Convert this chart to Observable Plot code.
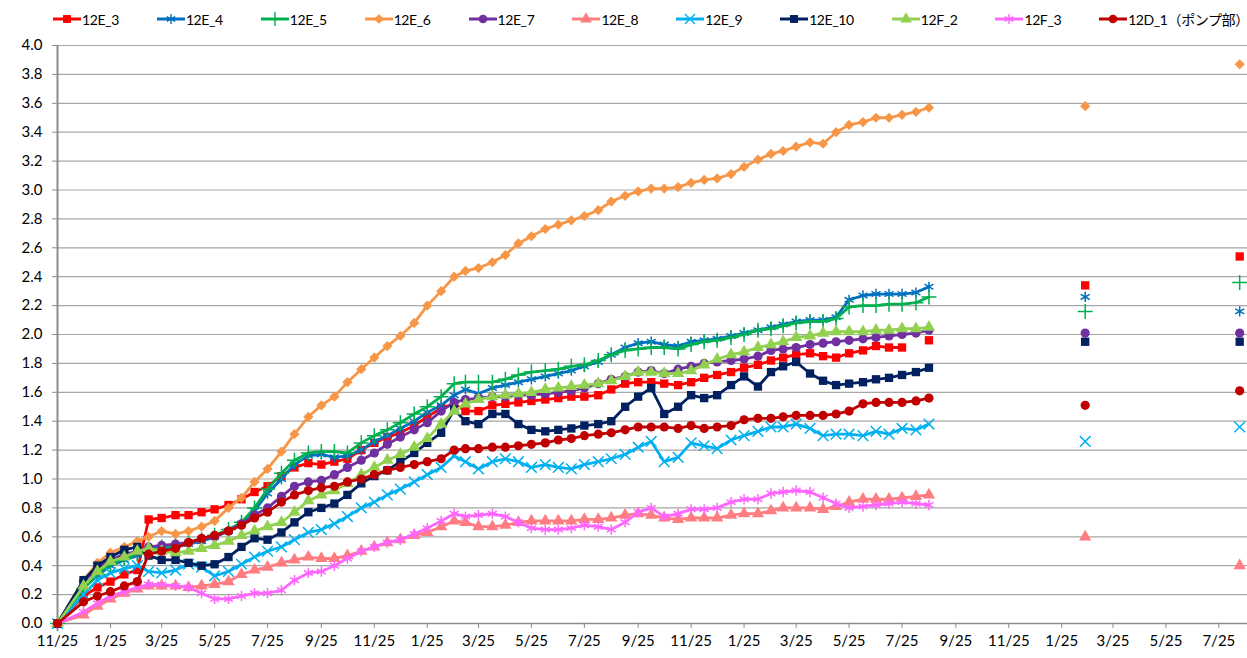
<!DOCTYPE html>
<html><head><meta charset="utf-8">
<script src="https://cdn.jsdelivr.net/npm/d3@7"></script>
<script src="https://cdn.jsdelivr.net/npm/@observablehq/plot@0.6"></script>
<style>
body{margin:0;background:#fff;font-family:Lato,"Noto Sans CJK JP",sans-serif;}
#legend{height:36px;display:flex;align-items:center;padding-left:53px;gap:38px;font-size:14px;letter-spacing:-0.4px;color:#000;box-sizing:border-box;padding-top:2px}
.item{display:flex;align-items:center;white-space:nowrap}
.item svg{margin-right:1px}
#chart svg{display:block}
</style></head><body>
<div id="legend"></div>
<div id="chart"></div>
<script>
const names = ["12E_3","12E_4","12E_5","12E_6","12E_7","12E_8","12E_9","12E_10","12F_2","12F_3","12D_1（ポンプ部）"];
const colors = ["#FF0000","#0070C0","#00B050","#F79646","#7030A0","#FF7C80","#00B0F0","#002060","#92D050","#FF66FF","#C00000"];
const symbols = ["square","asterisk","plus","diamond2","circle","triangle","times","square","triangle","asterisk","circle"];

const dates = ["2013-11-25","2013-12-25","2014-01-10","2014-01-25","2014-02-10","2014-02-25","2014-03-10","2014-03-25","2014-04-10","2014-04-25","2014-05-10","2014-05-25","2014-06-10","2014-06-25","2014-07-10","2014-07-25","2014-08-10","2014-08-25","2014-09-10","2014-09-25","2014-10-10","2014-10-25","2014-11-10","2014-11-25","2014-12-10","2014-12-25","2015-01-10","2015-01-25","2015-02-10","2015-02-25","2015-03-10","2015-03-25","2015-04-10","2015-04-25","2015-05-10","2015-05-25","2015-06-10","2015-06-25","2015-07-10","2015-07-25","2015-08-10","2015-08-25","2015-09-10","2015-09-25","2015-10-10","2015-10-25","2015-11-10","2015-11-25","2015-12-10","2015-12-25","2016-01-10","2016-01-25","2016-02-10","2016-02-25","2016-03-10","2016-03-25","2016-04-10","2016-04-25","2016-05-10","2016-05-25","2016-06-10","2016-06-25","2016-07-10","2016-07-25","2016-08-10","2016-08-25"];

const s12E_3 = [0,0.19,0.25,0.29,0.34,0.37,0.72,0.73,0.75,0.75,0.77,0.79,0.82,0.86,0.91,0.95,1.02,1.08,1.11,1.10,1.12,1.14,1.20,1.25,1.29,1.32,1.37,1.43,1.49,1.52,1.47,1.47,1.51,1.52,1.53,1.54,1.55,1.56,1.57,1.57,1.58,1.62,1.66,1.67,1.67,1.66,1.65,1.67,1.70,1.72,1.74,1.77,1.79,1.82,1.84,1.86,1.87,1.85,1.84,1.87,1.89,1.92,1.91,1.91,null,1.96];
const s12E_4 = [0,0.25,0.33,0.40,0.44,0.47,0.50,0.52,0.53,0.55,0.57,0.60,0.64,0.69,0.78,0.90,1.00,1.10,1.16,1.17,1.15,1.16,1.20,1.26,1.30,1.35,1.40,1.46,1.51,1.58,1.62,1.59,1.63,1.65,1.67,1.69,1.71,1.73,1.75,1.78,1.81,1.86,1.91,1.94,1.95,1.93,1.92,1.95,1.96,1.97,1.99,2.01,2.03,2.05,2.07,2.09,2.10,2.10,2.12,2.24,2.27,2.28,2.28,2.28,2.29,2.33];
const s12E_5 = [0,0.24,0.34,0.41,0.45,0.48,0.51,0.53,0.54,0.56,0.58,0.61,0.65,0.70,0.80,0.93,1.04,1.13,1.18,1.19,1.19,1.18,1.25,1.30,1.34,1.39,1.45,1.50,1.57,1.66,1.67,1.67,1.67,1.69,1.72,1.74,1.75,1.76,1.78,1.79,1.82,1.86,1.89,1.90,1.91,1.91,1.90,1.93,1.95,1.96,1.98,2.00,2.03,2.04,2.06,2.08,2.09,2.09,2.11,2.19,2.20,2.20,2.21,2.21,2.22,2.26];
const s12E_6 = [0,0.30,0.42,0.49,0.53,0.57,0.60,0.64,0.62,0.64,0.67,0.71,0.80,0.87,0.98,1.07,1.19,1.31,1.43,1.51,1.57,1.67,1.76,1.84,1.92,1.99,2.08,2.20,2.30,2.40,2.44,2.46,2.50,2.55,2.63,2.68,2.73,2.76,2.79,2.82,2.86,2.92,2.96,2.99,3.01,3.01,3.02,3.05,3.07,3.08,3.11,3.16,3.21,3.25,3.27,3.30,3.33,3.32,3.40,3.45,3.47,3.50,3.50,3.52,3.54,3.57];
const s12E_7 = [0,0.29,0.38,0.44,0.48,0.50,0.53,0.54,0.55,0.56,0.58,0.60,0.64,0.69,0.75,0.80,0.88,0.95,0.98,0.99,1.03,1.08,1.13,1.18,1.24,1.29,1.34,1.39,1.47,1.53,1.55,1.56,1.57,1.57,1.58,1.58,1.59,1.60,1.61,1.63,1.66,1.69,1.71,1.74,1.75,1.73,1.76,1.78,1.80,1.81,1.82,1.83,1.85,1.89,1.90,1.91,1.93,1.94,1.95,1.96,1.97,1.98,1.99,2.00,2.01,2.03];
const s12E_8 = [0,0.06,0.12,0.17,0.21,0.24,0.26,0.26,0.26,0.25,0.26,0.27,0.29,0.34,0.37,0.39,0.42,0.44,0.46,0.45,0.45,0.47,0.50,0.53,0.56,0.58,0.61,0.63,0.67,0.71,0.70,0.67,0.67,0.68,0.70,0.71,0.71,0.71,0.71,0.72,0.72,0.73,0.75,0.76,0.75,0.73,0.72,0.73,0.73,0.73,0.75,0.76,0.76,0.78,0.80,0.80,0.80,0.79,0.81,0.84,0.86,0.86,0.86,0.87,0.88,0.89];
const s12E_9 = [0,0.20,0.30,0.35,0.38,0.40,0.36,0.35,0.37,0.41,0.39,0.33,0.36,0.41,0.46,0.50,0.53,0.58,0.63,0.65,0.69,0.74,0.80,0.84,0.89,0.93,0.98,1.03,1.08,1.16,1.12,1.07,1.12,1.14,1.12,1.08,1.10,1.08,1.07,1.10,1.12,1.14,1.17,1.22,1.26,1.12,1.15,1.25,1.23,1.21,1.27,1.30,1.33,1.36,1.36,1.38,1.35,1.30,1.31,1.31,1.30,1.33,1.31,1.35,1.34,1.38];
const s12E_10 = [0,0.30,0.40,0.46,0.51,0.53,0.47,0.44,0.44,0.42,0.40,0.41,0.46,0.53,0.59,0.58,0.63,0.70,0.77,0.80,0.83,0.89,0.97,1.02,1.06,1.12,1.18,1.25,1.32,1.48,1.40,1.38,1.45,1.45,1.38,1.34,1.33,1.34,1.35,1.37,1.38,1.40,1.50,1.57,1.63,1.45,1.50,1.58,1.56,1.58,1.65,1.71,1.64,1.74,1.78,1.81,1.73,1.68,1.65,1.66,1.67,1.69,1.70,1.72,1.74,1.77];
const s12F_2 = [0,0.26,0.36,0.43,0.46,0.50,0.52,0.50,0.49,0.50,0.52,0.54,0.57,0.61,0.64,0.67,0.70,0.77,0.85,0.89,0.92,0.97,1.03,1.08,1.13,1.17,1.22,1.28,1.38,1.47,1.52,1.55,1.57,1.58,1.59,1.60,1.62,1.63,1.64,1.65,1.66,1.68,1.71,1.74,1.74,1.73,1.73,1.75,1.79,1.83,1.86,1.88,1.91,1.93,1.95,1.98,1.99,2.01,2.02,2.02,2.02,2.03,2.03,2.04,2.04,2.05];
const s12F_3 = [0,0.08,0.14,0.19,0.22,0.25,0.27,0.27,0.26,0.25,0.21,0.17,0.17,0.19,0.21,0.21,0.23,0.30,0.35,0.36,0.40,0.45,0.50,0.53,0.56,0.58,0.62,0.66,0.71,0.76,0.74,0.75,0.76,0.74,0.70,0.66,0.65,0.65,0.66,0.68,0.67,0.65,0.70,0.77,0.80,0.74,0.76,0.79,0.79,0.80,0.84,0.86,0.86,0.90,0.91,0.92,0.91,0.87,0.83,0.80,0.81,0.82,0.83,0.84,0.83,0.82];
const s12D_1 = [0,0.15,0.19,0.22,0.26,0.29,0.48,0.50,0.52,0.56,0.59,0.61,0.64,0.68,0.73,0.77,0.84,0.89,0.92,0.94,0.95,0.98,1.00,1.03,1.06,1.08,1.10,1.12,1.14,1.20,1.21,1.21,1.22,1.22,1.23,1.24,1.25,1.27,1.28,1.30,1.31,1.32,1.34,1.36,1.36,1.36,1.35,1.37,1.35,1.36,1.37,1.41,1.42,1.42,1.43,1.44,1.44,1.44,1.45,1.47,1.52,1.53,1.53,1.53,1.54,1.56];

// later, separate measurements (markers only)
const isoDates = ["2017-02-21","2017-08-18"];
const iso12E_3 = [2.34,2.54];
const iso12E_4 = [2.26,2.16];
const iso12E_5 = [2.16,2.36];
const iso12E_6 = [3.58,3.87];
const iso12E_7 = [2.01,2.01];
const iso12E_8 = [0.60,0.40];
const iso12E_9 = [1.26,1.36];
const iso12E_10 = [1.95,1.95];
const iso12F_2 = [null,null];
const iso12F_3 = [null,null];
const iso12D_1 = [1.51,1.61];

const xTicks = ["2013-11-25","2014-01-25","2014-03-25","2014-05-25","2014-07-25","2014-09-25","2014-11-25","2015-01-25","2015-03-25","2015-05-25","2015-07-25","2015-09-25","2015-11-25","2016-01-25","2016-03-25","2016-05-25","2016-07-25","2016-09-25","2016-11-25","2017-01-25","2017-03-25","2017-05-25","2017-07-25"];
const yTicks = [0,0.2,0.4,0.6,0.8,1.0,1.2,1.4,1.6,1.8,2.0,2.2,2.4,2.6,2.8,3.0,3.2,3.4,3.6,3.8,4.0];

const series = [s12E_3,s12E_4,s12E_5,s12E_6,s12E_7,s12E_8,s12E_9,s12E_10,s12F_2,s12F_3,s12D_1];
const isoSeries = [iso12E_3,iso12E_4,iso12E_5,iso12E_6,iso12E_7,iso12E_8,iso12E_9,iso12E_10,iso12F_2,iso12F_3,iso12D_1];

const parse = d => new Date(d + "T00:00:00Z");
const strokeSyms = new Set(["asterisk","plus","times"]);
const symR = s => s === "square" ? 4.7 : (strokeSyms.has(s) ? 4.9 : 4.6);
const dotOpts = (i) => {
  const s = symbols[i];
  return strokeSyms.has(s)
    ? {symbol: s, r: symR(s), stroke: colors[i], strokeWidth: 1.5, fill: "none"}
    : {symbol: s, r: symR(s), fill: colors[i], stroke: "none"};
};

// legend
const d3sym = {square:d3.symbolSquare, asterisk:d3.symbolAsterisk, plus:d3.symbolPlus, diamond2:d3.symbolDiamond2, circle:d3.symbolCircle, triangle:d3.symbolTriangle, times:d3.symbolTimes};
const legend = d3.select("#legend");
names.forEach((n, i) => {
  const item = legend.append("div").attr("class","item");
  const sv = item.append("svg").attr("width",28).attr("height",14);
  sv.append("line").attr("x1",0).attr("x2",28).attr("y1",7).attr("y2",7).attr("stroke",colors[i]).attr("stroke-width",3);
  const s = symbols[i], r = symR(s) * 0.95;
  const p = sv.append("path").attr("transform","translate(14,7)").attr("d", d3.symbol(d3sym[s], Math.PI*r*r)());
  if (strokeSyms.has(s)) p.attr("fill","none").attr("stroke",colors[i]).attr("stroke-width",1.4);
  else p.attr("fill",colors[i]);
  item.append("span").text(n);
});

const marks = [
  Plot.gridY(yTicks.slice(1), {stroke:"#a6a6a6", strokeOpacity:1, strokeWidth:1.2}),
  Plot.ruleY([0], {stroke:"#8c8c8c", strokeWidth:1.5}),
  Plot.ruleX([parse("2013-11-25")], {stroke:"#8c8c8c", strokeWidth:2}),
  Plot.axisX({ticks: xTicks.map(parse), tickFormat: d3.utcFormat("%-m/%-d"), tickSize:5, tickPadding:7, stroke:"#8c8c8c", fill:"#000", label:null}),
  Plot.axisY({ticks: yTicks, tickFormat: d3.format(".1f"), tickSize:5, tickPadding:10, stroke:"#8c8c8c", fill:"#000", label:null})
];
series.forEach((vals, i) => {
  const rows = dates.map((d, j) => ({date: parse(d), value: vals[j]}));
  const pts = rows.filter(r => r.value != null);
  const iso = isoDates.map((d, j) => ({date: parse(d), value: isoSeries[i][j]})).filter(r => r.value != null);
  marks.push(Plot.line(rows, {x:"date", y:"value", stroke: colors[i], strokeWidth: 2.8}));
  marks.push(Plot.dot(pts.concat(iso), {x:"date", y:"value", ...dotOpts(i)}));
});

const chart = Plot.plot({
  width: 1247, height: 622,
  marginLeft: 57, marginRight: 0, marginTop: 9, marginBottom: 35,
  style: {fontFamily: "Lato, sans-serif", fontSize: "15px", color: "#000", background: "#fff", overflow: "visible"},
  x: {type: "utc", domain: [parse("2013-11-25"), parse("2017-08-27")]},
  y: {domain: [0, 4]},
  marks
});
document.getElementById("chart").append(chart);
</script>
</body></html>
